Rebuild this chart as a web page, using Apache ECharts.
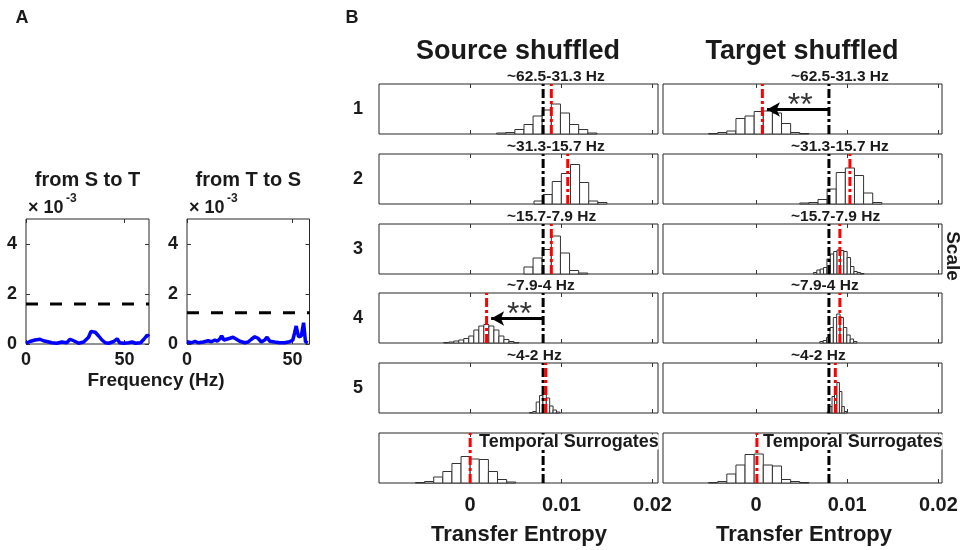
<!DOCTYPE html>
<html><head><meta charset="utf-8">
<script src="https://cdn.jsdelivr.net/npm/echarts@6/dist/echarts.min.js"></script>
<style>html,body{margin:0;padding:0;background:#fff}#c{width:974px;height:550px}</style>
</head><body><div id="c"></div>
<script>
// ---------- Panel A data (x10^-3) ----------
const freqS2T = [0, 2.0, 4.6, 7.1, 8.8, 10.5, 13.1, 15.6, 18.2, 20.7, 22.4, 23.3, 24.5, 26.7, 29.3, 31.8, 33.0, 35.2, 36.9, 38.6, 40.3, 42.0, 44.6, 46.3, 47.6, 49.7, 52.2, 53.9, 55.6, 58.2, 59.9, 61.6, 62.4];
const teS2T   = [0.03, 0.10, 0.16, 0.19, 0.13, 0.10, 0.05, 0.03, 0.08, 0.05, 0.19, 0.27, 0.12, 0.03, 0.08, 0.27, 0.50, 0.47, 0.32, 0.16, 0.05, 0.03, 0.10, 0.21, 0.05, 0.03, 0.05, 0.08, 0.03, 0.05, 0.19, 0.36, 0.29];
const freqT2S = [0, 2.2, 3.8, 5.3, 7.7, 10.0, 11.6, 13.2, 14.3, 15.6, 16.4, 17.5, 18.7, 20.3, 21.8, 23.4, 25.0, 27.4, 28.9, 30.5, 32.1, 33.6, 35.2, 36.8, 37.9, 39.2, 41.5, 43.9, 46.2, 48.6, 50.1, 50.9, 51.7, 52.8, 54.1, 55.2, 56.1, 57.2];
const teT2S   = [0.09, 0.05, 0.11, 0.05, 0.08, 0.13, 0.09, 0.16, 0.11, 0.21, 0.32, 0.16, 0.19, 0.23, 0.27, 0.19, 0.11, 0.05, 0.08, 0.19, 0.29, 0.23, 0.08, 0.16, 0.27, 0.11, 0.08, 0.05, 0.05, 0.09, 0.16, 0.43, 0.72, 0.29, 0.32, 0.85, 0.09, 0.05];
const thresholdS2T = 1.6;
const thresholdT2S = 1.25;
const panelATitles = ['from S to T', 'from T to S'];
const freqTicks = [0, 50];
const panelAYTicks = [0, 2, 4];

// ---------- Panel B data ----------
const scaleLabels = ['1', '2', '3', '4', '5'];
const bandLabels = ['~62.5-31.3 Hz', '~31.3-15.7 Hz', '~15.7-7.9 Hz', '~7.9-4 Hz', '~4-2 Hz', 'Temporal Surrogates'];
const teTicks = [0, 0.01, 0.02];
const teTickLabels = ['0', '0.01', '0.02'];
const significanceThreshold = 0.008;

const sourceBinStart = [0.0029, 0.0070, 0.0059, -0.0029, 0.0065, -0.0060];
const sourceBinWidth = [0.0010, 0.0010, 0.0010, 0.00055, 0.00037, 0.0010];
const sourceCounts1 = [2, 3, 9, 19, 36, 48, 60, 42, 19, 9, 2];
const sourceCounts2 = [6, 19, 45, 61, 79, 43, 6, 3];
const sourceCounts3 = [14, 32, 49, 76, 42, 7, 2];
const sourceCounts4 = [1, 2, 4, 6, 9, 14, 26, 34, 37, 34, 26, 14, 7, 3, 1];
const sourceCounts5 = [1, 3, 22, 35, 40, 30, 14, 6, 2];
const sourceCounts6 = [1, 3, 12, 23, 39, 53, 48, 47, 23, 7, 2];
const sourceObserved = [0.0089, 0.0107, 0.0089, 0.0018, 0.0083, 0.0000];
const sourceSignificant = [false, false, false, true, false, false];

const targetBinStart = [-0.0052, 0.0048, 0.0063, 0.0070, 0.0078, -0.0052];
const targetBinWidth = [0.0010, 0.0010, 0.00037, 0.00037, 0.00027, 0.0010];
const targetCounts1 = [1, 3, 6, 31, 36, 45, 46, 42, 21, 3, 1];
const targetCounts2 = [2, 3, 9, 30, 63, 72, 57, 22, 3];
const targetCounts3 = [3, 8, 10, 13, 30, 40, 45, 48, 47, 45, 33, 15, 5, 3, 1];
const targetCounts4 = [3, 5, 11, 31, 51, 58, 51, 31, 16, 8, 3];
const targetCounts5 = [2, 13, 33, 53, 61, 43, 13, 3];
const targetCounts6 = [1, 3, 18, 36, 57, 58, 36, 34, 7, 3, 1];
const targetObserved = [0.0007, 0.0103, 0.0092, 0.0092, 0.0087, 0.0001];
const targetSignificant = [true, false, false, false, false, false];

// ---------- build ----------
const FONT = '"Liberation Sans", Arial, Helvetica, sans-serif';
const INK = '#1a1a1a';
const chart = echarts.init(document.getElementById('c'), null, {renderer: 'canvas'});
const grids = [], xAxes = [], yAxes = [], series = [], graphics = [];

function txt(x, y, text, size, opts) {
  opts = opts || {};
  const st = {
    text: text, fill: opts.fill || INK,
    font: (opts.weight || 'bold') + ' ' + size + 'px ' + FONT,
    align: opts.align || 'center', textAlign: opts.align || 'center',
    verticalAlign: 'middle', textVerticalAlign: 'middle'
  };
  if (opts.bg) { st.backgroundColor = opts.bg; st.lineHeight = opts.lineHeight || size; }
  graphics.push({type: 'text', x: x, y: y, rotation: opts.rotation || 0, z: 100, zlevel: 0, style: st, silent: true});
}

function tickCfg(vals) {
  return {show: true, inside: true, length: 4, customValues: vals, lineStyle: {color: '#333', width: 1}};
}

function addPlot(box, xr, yr, xTicks, yTicks, xLab, yLab) {
  const gi = grids.length;
  grids.push(Object.assign({show: true, borderColor: '#262626', borderWidth: 1, backgroundColor: '#fff', containLabel: false}, box));
  const xi = xAxes.length, yi = yAxes.length;
  const base = {type: 'value', gridIndex: gi, splitLine: {show: false}, axisLine: {show: false, onZero: false}};
  xAxes.push(Object.assign({}, base, {position: 'bottom', min: xr[0], max: xr[1], axisTick: tickCfg(xTicks),
    axisLabel: xLab ? Object.assign({show: true, customValues: xTicks}, xLab) : {show: false}}));
  xAxes.push(Object.assign({}, base, {position: 'top', min: xr[0], max: xr[1], axisTick: tickCfg(xTicks), axisLabel: {show: false}}));
  yAxes.push(Object.assign({}, base, {position: 'left', min: yr[0], max: yr[1], axisTick: tickCfg(yTicks),
    axisLabel: yLab ? Object.assign({show: true, customValues: yTicks}, yLab) : {show: false}}));
  yAxes.push(Object.assign({}, base, {position: 'right', min: yr[0], max: yr[1], axisTick: tickCfg(yTicks), axisLabel: {show: false}}));
  return {xi: xi, yi: yi};
}

// Panel A
const aBoxes = [{left: 26, top: 219, width: 123, height: 125}, {left: 187, top: 219, width: 122.5, height: 125}];
const aXMax = [62.5, 58];
const aFreq = [freqS2T, freqT2S], aTE = [teS2T, teT2S], aThr = [thresholdS2T, thresholdT2S];
for (let k = 0; k < 2; k++) {
  const ax = addPlot(aBoxes[k], [0, aXMax[k]], [0, 5], freqTicks, panelAYTicks,
    {margin: 7, fontSize: 18, fontWeight: 'bold', fontFamily: FONT, color: INK},
    {margin: 9, fontSize: 18, fontWeight: 'bold', fontFamily: FONT, color: INK});
  series.push({type: 'line', xAxisIndex: ax.xi, yAxisIndex: ax.yi, showSymbol: false, symbol: 'none',
    data: aFreq[k].map((f, i) => [f, aTE[k][i]]), lineStyle: {color: '#0000ff', width: 3.5}, z: 3, animation: false});
  series.push({type: 'line', xAxisIndex: ax.xi, yAxisIndex: ax.yi, showSymbol: false, symbol: 'none',
    data: [[0, aThr[k]], [aXMax[k], aThr[k]]], lineStyle: {color: '#000', width: 3, type: [12, 12]}, z: 4, animation: false});
  const b = aBoxes[k];
  txt(b.left + b.width / 2, 180, panelATitles[k], 20);
  txt(b.left + 2, 208, '\u00d7 10', 18, {align: 'left'});
  txt(b.left + 40, 199, '-3', 12, {align: 'left'});
}
txt(156, 381, 'Frequency (Hz)', 19);
txt(22, 18, 'A', 18);
txt(352, 18, 'B', 18);

// Panel B
const colLeft = [379, 663];
const colRange = [[-0.0100, 0.0206], [-0.0102, 0.0204]];
const rowTops = [84, 154, 224, 293, 363, 433];
const colData = [
  {start: sourceBinStart, width: sourceBinWidth, counts: [sourceCounts1, sourceCounts2, sourceCounts3, sourceCounts4, sourceCounts5, sourceCounts6], obs: sourceObserved, sig: sourceSignificant},
  {start: targetBinStart, width: targetBinWidth, counts: [targetCounts1, targetCounts2, targetCounts3, targetCounts4, targetCounts5, targetCounts6], obs: targetObserved, sig: targetSignificant}
];
const DASHDOT = [9, 3, 3, 3];

function histRender(params, api) {
  const a = api.coord([api.value(0), 0]);
  const b = api.coord([api.value(1), api.value(2)]);
  return {type: 'rect', shape: {x: a[0], y: b[1], width: b[0] - a[0], height: a[1] - b[1]},
    style: {fill: '#fff', stroke: '#333', lineWidth: 1}};
}

for (let c = 0; c < 2; c++) {
  const cd = colData[c];
  for (let r = 0; r < 6; r++) {
    const last = r === 5;
    const ax = addPlot({left: colLeft[c], top: rowTops[r], width: 279, height: 50}, colRange[c], [0, 100], teTicks, [],
      last ? {margin: 12, fontSize: 20, fontWeight: 'bold', fontFamily: FONT, color: INK,
        formatter: v => teTickLabels[teTicks.indexOf(v)]} : null, null);
    const counts = cd.counts[r];
    series.push({type: 'custom', xAxisIndex: ax.xi, yAxisIndex: ax.yi, renderItem: histRender, animation: false, silent: true, z: 2,
      encode: {x: [0, 1], y: 2},
      data: counts.map((v, i) => [cd.start[r] + i * cd.width[r], cd.start[r] + (i + 1) * cd.width[r], v])});
    const thr = {type: 'line', xAxisIndex: ax.xi, yAxisIndex: ax.yi, showSymbol: false, symbol: 'none', animation: false, z: 3,
      data: [[significanceThreshold, 0], [significanceThreshold, 100]], lineStyle: {color: '#000', width: 3, type: DASHDOT}};
    if (cd.sig[r]) {
      thr.markLine = {silent: true, animation: false, symbol: ['none', 'arrow'], symbolSize: [11, 13], label: {show: false},
        lineStyle: {color: '#000', width: 3, type: 'solid'},
        data: [[{coord: [significanceThreshold, 49]}, {coord: [cd.obs[r] + 0.0005, 49]}]]};
      series.push({type: 'scatter', xAxisIndex: ax.xi, yAxisIndex: ax.yi, symbolSize: 0, animation: false, z: 6,
        data: [[(significanceThreshold + cd.obs[r]) / 2 + 0.0005, 74]],
        label: {show: true, position: 'inside', formatter: '**', fontSize: 32, fontFamily: FONT, color: '#000', offset: [0, 9]}});
    }
    series.push(thr);
    series.push({type: 'line', xAxisIndex: ax.xi, yAxisIndex: ax.yi, showSymbol: false, symbol: 'none', animation: false, z: 4,
      data: [[cd.obs[r], 0], [cd.obs[r], 100]], lineStyle: {color: '#ff0000', width: 3, type: DASHDOT}});
    if (last) {
      txt(colLeft[c] + 100, rowTops[r] + 9, bandLabels[r], 18, {align: 'left', bg: '#fff', lineHeight: 15});
    } else {
      txt(colLeft[c] + 128, rowTops[r] - 7, bandLabels[r], 15.5, {align: 'left'});
    }
    if (c === 0 && r < 5) txt(358, rowTops[r] + 25, scaleLabels[r], 18);
  }
}
txt(518, 52, 'Source shuffled', 27);
txt(802, 52, 'Target shuffled', 27);
txt(519, 535, 'Transfer Entropy', 22);
txt(804, 535, 'Transfer Entropy', 22);
txt(952, 256, 'Scale', 19, {rotation: -Math.PI / 2});

chart.setOption({animation: false, backgroundColor: '#fff', grid: grids, xAxis: xAxes, yAxis: yAxes, series: series, graphic: {elements: graphics}});
</script></body></html>
